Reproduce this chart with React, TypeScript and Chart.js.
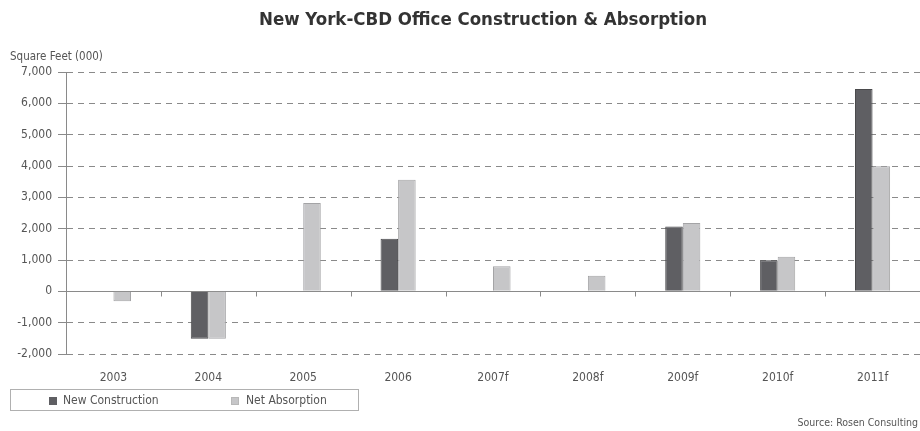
import React, { useEffect, useRef } from "react";
import { Chart, registerables } from "chart.js";

Chart.register(...registerables);

const categories = ["2003", "2004", "2005", "2006", "2007f", "2008f", "2009f", "2010f", "2011f"];
const newConstruction = [null, -1510, null, 1680, null, null, 2070, 990, 6460];
const netAbsorption = [-320, -1510, 2820, 3560, 800, 500, 2180, 1100, 3990];
const seriesNames = ["New Construction", "Net Absorption"];
const yMin = -2000;
const yMax = 7000;
const yStep = 1000;

const FONT = '"DejaVu Sans Condensed", "Liberation Sans", sans-serif';
const DARK = "#5f5f63";
const DARK_BORDER = "#4a4a4c";
const LIGHT = "#c6c6c8";
const LIGHT_BORDER = "#a4a4a6";
const TEXT = "#555555";
const GRID = "#8a8a8a";

const zeroLinePlugin = {
  id: "zeroLine",
  beforeDatasetsDraw(chart: any) {
    const { ctx, chartArea, scales } = chart;
    const y = Math.round(scales.y.getPixelForValue(0)) + 0.5;
    ctx.save();
    ctx.strokeStyle = GRID;
    ctx.lineWidth = 1;
    ctx.setLineDash([]);
    ctx.beginPath();
    ctx.moveTo(chartArea.left, y);
    ctx.lineTo(chartArea.right, y);
    const n = categories.length;
    for (let i = 1; i < n; i++) {
      const x = Math.round((scales.x.getPixelForValue(i - 1) + scales.x.getPixelForValue(i)) / 2) + 0.5;
      ctx.moveTo(x, y);
      ctx.lineTo(x, y + 5);
    }
    ctx.stroke();
    ctx.restore();
  },
};

function ChartCanvas() {
  const ref = useRef<HTMLCanvasElement | null>(null);
  useEffect(() => {
    if (!ref.current) return;
    const chart = new Chart(ref.current, {
      type: "bar",
      data: {
        labels: categories,
        datasets: [
          {
            label: seriesNames[0],
            data: newConstruction as any,
            backgroundColor: DARK,
            borderColor: DARK_BORDER,
            borderWidth: 1,
          },
          {
            label: seriesNames[1],
            data: netAbsorption,
            backgroundColor: LIGHT,
            borderColor: LIGHT_BORDER,
            borderWidth: 1,
          },
        ],
      },
      options: {
        animation: false,
        responsive: false,
        devicePixelRatio: 1,
        layout: { padding: { top: 72, left: 0, right: 0, bottom: 0 } },
        datasets: { bar: { categoryPercentage: 0.37, barPercentage: 1 } },
        plugins: {
          legend: { display: false },
          title: { display: false },
          tooltip: { enabled: false },
        },
        scales: {
          x: {
            grid: { display: false, drawTicks: false },
            border: { display: false },
            ticks: { color: TEXT, font: { family: FONT, size: 12 }, padding: 17, maxRotation: 0 },
            afterFit: (s: any) => {
              s.height = 77;
            },
          },
          y: {
            min: yMin,
            max: yMax,
            grid: {
              color: (c: any) => (c.tick && c.tick.value === 0 ? "rgba(0,0,0,0)" : GRID),
              tickColor: GRID,
              tickLength: 8,
              lineWidth: 1,
            },
            border: { display: true, color: GRID, width: 1, dash: [6, 5] },
            ticks: {
              stepSize: yStep,
              color: TEXT,
              font: { family: FONT, size: 12 },
              padding: 6,
              callback: (v: any) => Number(v).toLocaleString("en-US"),
            },
            afterFit: (s: any) => {
              s.width = 66;
            },
          },
        },
      },
      plugins: [zeroLinePlugin],
    });
    return () => chart.destroy();
  }, []);
  return <canvas ref={ref} width={920} height={431} style={{ position: "absolute", left: 0, top: 0 }} />;
}

export default function App() {
  return (
    <div style={{ position: "absolute", left: 0, top: 0, width: 920, height: 431, background: "#fff", fontFamily: FONT, overflow: "hidden" }}>
      <ChartCanvas />
      <div
        style={{
          position: "absolute",
          left: 0,
          width: 966,
          top: 5,
          textAlign: "center",
          fontSize: 18.5,
          fontWeight: "bold",
          color: "#333",
          lineHeight: "28px",
          whiteSpace: "nowrap",
        }}
      >
        New York-CBD Office Construction &amp; Absorption
      </div>
      <div style={{ position: "absolute", left: 10, top: 48, fontSize: 11.5, color: TEXT, lineHeight: "16px", whiteSpace: "nowrap" }}>
        Square Feet (000)
      </div>
      <div
        style={{
          position: "absolute",
          left: 10,
          top: 389,
          width: 349,
          height: 22,
          border: "1px solid #b0b0b0",
          boxSizing: "border-box",
          fontSize: 12,
          color: TEXT,
        }}
      >
        <div style={{ position: "absolute", left: 38, top: 7, width: 8, height: 8, background: DARK }} />
        <div style={{ position: "absolute", left: 52, top: 2, lineHeight: "16px", whiteSpace: "nowrap" }}>{seriesNames[0]}</div>
        <div style={{ position: "absolute", left: 220, top: 7, width: 8, height: 8, background: LIGHT, border: "1px solid #b8b8b8", boxSizing: "border-box" }} />
        <div style={{ position: "absolute", left: 235, top: 2, lineHeight: "16px", whiteSpace: "nowrap" }}>{seriesNames[1]}</div>
      </div>
      <div style={{ position: "absolute", right: 2, top: 414, fontSize: 10.5, color: TEXT, lineHeight: "16px", whiteSpace: "nowrap" }}>
        Source: Rosen Consulting
      </div>
    </div>
  );
}
